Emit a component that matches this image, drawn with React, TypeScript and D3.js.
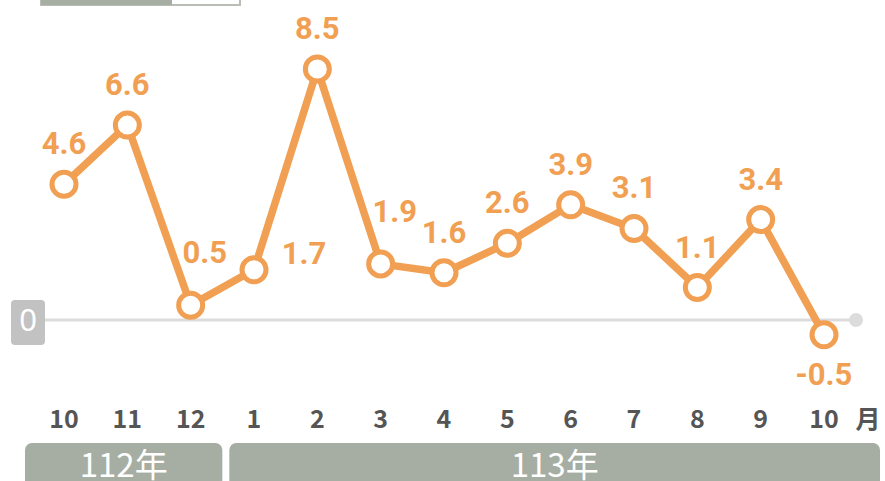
import React from "react";
import * as d3 from "d3";

const months = ["10", "11", "12", "1", "2", "3", "4", "5", "6", "7", "8", "9", "10"];
const values = [4.6, 6.6, 0.5, 1.7, 8.5, 1.9, 1.6, 2.6, 3.9, 3.1, 1.1, 3.4, -0.5];
// label placement relative to its point
const labelPos = ["above", "above", "aboveRight", "right", "above", "aboveRight", "above", "above", "above", "above", "above", "above", "below"];
const yearLabels = ["112年", "113年"];
const yearStart = [0, 3];
const yearEnd = [2, 12];

const W = 885;
const H = 481;
const ORANGE = "#F19F52";

export default function App() {
  const x = d3.scaleLinear().domain([0, months.length - 1]).range([64, 824]);
  const y = d3.scaleLinear().domain([0, 8.5]).range([320, 69]);
  const line = d3.line<number>().x((_, i) => x(i)).y((d) => y(d));
  const step = x(1) - x(0);

  const labelXY = (i: number) => {
    const px = x(i);
    const py = y(values[i]);
    switch (labelPos[i]) {
      case "right":
        return { lx: px + 50, ly: py - 6 };
      case "aboveRight":
        return { lx: px + 14, ly: py - 42 };
      case "below":
        return { lx: px, ly: py + 50 };
      default:
        return { lx: px, ly: py - 30 };
    }
  };

  return (
    <svg width={W} height={H} style={{ position: "absolute", left: 0, top: 0, display: "block" }}>
      <rect x={0} y={0} width={W} height={H} fill="#fff" />
      {/* partial legend box at top */}
      <rect x={41} y={-10} width={199} height={15} fill="#fff" stroke="#b8beb6" strokeWidth={2} />
      <rect x={41} y={-10} width={131} height={15} fill="#A6AEA4" />

      {/* zero baseline */}
      <line x1={44} x2={856} y1={y(0)} y2={y(0)} stroke="#DCDCDC" strokeWidth={3} />
      <circle cx={856} cy={y(0)} r={7} fill="#DCDCDC" />
      <rect x={11} y={300} width={34} height={45} rx={4} fill="#C2C2C2" />
      <text x={28} y={y(0) + 11} textAnchor="middle" fill="#fff" fontFamily="'Noto Sans', sans-serif" fontSize={31}>0</text>

      {/* line */}
      <path d={line(values) || ""} fill="none" stroke={ORANGE} strokeWidth={7.5} strokeLinejoin="round" />
      {values.map((v, i) => (
        <circle key={i} cx={x(i)} cy={y(v)} r={12} fill="#fff" stroke={ORANGE} strokeWidth={5} />
      ))}
      {values.map((v, i) => {
        const { lx, ly } = labelXY(i);
        return (
          <text key={"l" + i} x={lx} y={ly} textAnchor="middle" fill={ORANGE} fontFamily="Roboto, 'Liberation Sans', sans-serif" fontWeight="bold" fontSize={31}>
            {v.toFixed(1)}
          </text>
        );
      })}

      {/* month labels */}
      {months.map((m, i) => (
        <text key={"m" + i} x={x(i)} y={428} textAnchor="middle" fill="#555" fontFamily="'Noto Sans CJK TC', 'Noto Sans', sans-serif" fontWeight="bold" fontSize={25}>
          {m}
        </text>
      ))}
      <text x={868} y={428} textAnchor="middle" fill="#555" fontFamily="'Noto Sans CJK TC', sans-serif" fontWeight="bold" fontSize={25}>月</text>

      {/* year bars */}
      {yearLabels.map((lab, k) => {
        const xs = k === 0 ? 25 : x(yearStart[k]) - step / 2 + 7;
        const xe = k === yearLabels.length - 1 ? 880 : x(yearEnd[k]) + step / 2;
        return (
          <g key={"y" + k}>
            <rect x={xs} y={443} width={xe - xs} height={50} rx={7} fill="#A6AEA4" />
            <text x={(xs + xe) / 2} y={477} textAnchor="middle" fill="#fff" fontFamily="'Noto Sans CJK TC', sans-serif" fontSize={33}>
              {lab}
            </text>
          </g>
        );
      })}
    </svg>
  );
}
